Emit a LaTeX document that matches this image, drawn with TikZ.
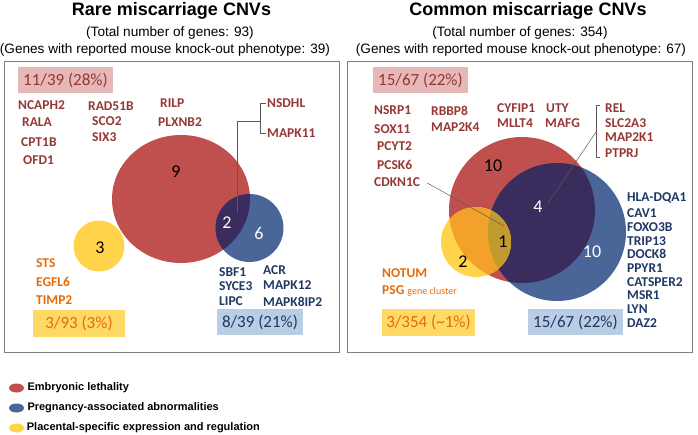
\documentclass[tikz,border=0pt]{standalone}
\usepackage{fontspec}
\usetikzlibrary{calc}
\setmainfont{Liberation Sans}
\newfontfamily\calfont{Carlito}
\definecolor{cred}{HTML}{C0504D}
\definecolor{cblue}{HTML}{4A6698}
\definecolor{cnavy}{HTML}{3A2D5E}
\definecolor{cyellow}{HTML}{FFD44A}
\definecolor{corange}{HTML}{F2A22A}
\definecolor{colive}{HTML}{C29B2E}
\definecolor{tred}{HTML}{953735}
\definecolor{torange}{HTML}{E46C0A}
\definecolor{tblue}{HTML}{1F3864}
\definecolor{fpink}{HTML}{E6B9B8}
\definecolor{fyellow}{HTML}{FFD966}
\definecolor{fblue}{HTML}{B9CDE5}
\definecolor{pgray}{HTML}{808080}
\tikzset{
  gn/.style={font=\calfont\bfseries\fontsize{13.5}{13.5}\selectfont, anchor=west, inner sep=0pt},
  rn/.style={gn, text=tred},
  on/.style={gn, text=torange},
  bn/.style={gn, text=tblue},
  lbl/.style={font=\calfont\fontsize{17}{17}\selectfont, minimum height=26pt, inner sep=0pt},
  num/.style={font=\calfont\fontsize{18}{18}\selectfont, inner sep=0pt},
  panel/.style={draw=pgray, line width=0.8pt},
  conn/.style={draw=black!65, line width=0.5pt},
  leg/.style={font=\bfseries\fontsize{11}{11}\selectfont, anchor=west, inner sep=0pt},
  ttl/.style={font=\bfseries\fontsize{18}{18}\selectfont, anchor=base, inner sep=0pt},
  sub/.style={font=\fontsize{13.6}{13.6}\selectfont, anchor=base, inner sep=0pt},
}
\begin{document}
\begin{tikzpicture}[x=1pt,y=-1pt]
\useasboundingbox (0,0) rectangle (698,435);
% titles
\node[ttl] (t1) at (171.5,16) {Rare miscarriage CNVs};
\node[sub] (s1a) at (170,37) {(Total number of genes: 93)};
\node[sub] (s1b) at (165,54) {(Genes with reported mouse knock-out phenotype: 39)};
\node[ttl] (t2) at (528,16) {Common miscarriage CNVs};
\node[sub] (s2a) at (520,37) {(Total number of genes: 354)};
\node[sub] (s2b) at (521,54) {(Genes with reported mouse knock-out phenotype: 67)};
% panels
\draw[panel] (4,61) rectangle (339,352);
\draw[panel] (347,61) rectangle (692,352);

% ---------- left Venn ----------
\fill[cred] (181,199) ellipse [x radius=69, y radius=64];
\fill[cblue] (249.5,228) circle [radius=34];
\begin{scope}
  \clip (181,199) ellipse [x radius=69, y radius=64];
  \fill[cnavy] (249.5,228) circle [radius=34];
\end{scope}
\fill[cyellow] (99,246) circle [radius=25.5];
\node[num] (n9) at (176,172) {9};
\node[num, text=white] (n2) at (227,223) {2};
\node[num, text=white] (n6) at (259,233) {6};
\node[num] (n3) at (100,248) {3};

% left labels
\node[lbl, fill=fpink, text=tred, minimum width=95pt] (l1) at (65.5,80) {11/39 (28\%)};
\node[lbl, fill=fyellow, text=torange, minimum width=92pt, minimum height=27pt] (l2) at (79,323.5) {3/93 (3\%)};
\node[lbl, fill=fblue, text=tblue, minimum width=86pt] (l3) at (260,322) {8/39 (21\%)};

% left names
\node[rn] (a1) at (18,105) {NCAPH2};
\node[rn] (a2) at (22,122) {RALA};
\node[rn] (a3) at (21,142) {CPT1B};
\node[rn] (a4) at (23,160) {OFD1};
\node[rn] (a5) at (88,106) {RAD51B};
\node[rn] (a6) at (92,121) {SCO2};
\node[rn] (a7) at (92,137) {SIX3};
\node[rn] (a8) at (160,103) {RILP};
\node[rn] (a9) at (158,122) {PLXNB2};
\node[rn] (nsdhl) at (267,103) {NSDHL};
\node[rn] (mapk11) at (267,133) {MAPK11};
\node[on] (b1) at (36,263) {STS};
\node[on] (b2) at (36,282) {EGFL6};
\node[on] (b3) at (36,300) {TIMP2};
\node[bn] (c1) at (219,272) {SBF1};
\node[bn] (c2) at (219,286) {SYCE3};
\node[bn] (c3) at (219,301) {LIPC};
\node[bn] (c4) at (263,270) {ACR};
\node[bn] (c5) at (263,285) {MAPK12};
\node[bn] (c6) at (263,302) {MAPK8IP2};

% left connector
\coordinate (p2) at (237,213);
\coordinate (bj) at (260,121);
\draw[conn] (p2) |- (bj);
\draw[conn] ($(nsdhl.west)+(-1.5,0)$) -- (260,103) -- (260,133) -- ($(mapk11.west)+(-1.5,0)$);

% ---------- right Venn ----------
\fill[cred] (522,210) circle [radius=73];
\fill[cblue] (557,232) circle [radius=69];
\begin{scope}
  \clip (522,210) circle [radius=73];
  \fill[cnavy] (557,232) circle [radius=69];
\end{scope}
\fill[cyellow] (476,242) circle [radius=35];
\begin{scope}
  \clip (476,242) circle [radius=35];
  \fill[corange] (522,210) circle [radius=73];
  \clip (522,210) circle [radius=73];
  \fill[colive] (557,232) circle [radius=69];
\end{scope}
\node[num] (m10a) at (493,166) {10};
\node[num, text=white] (m4) at (538,207) {4};
\node[num, text=white] (m10b) at (592,252) {10};
\node[num] (m1) at (503,242) {1};
\node[num] (m2) at (463,262) {2};

% right labels
\node[lbl, fill=fpink, text=tred, minimum width=95pt] (r1) at (420.5,80) {15/67 (22\%)};
\node[lbl, fill=fyellow, text=torange, minimum width=93pt] (r2) at (428.5,322.5) {3/354 (\textasciitilde1\%)};
\node[lbl, fill=fblue, text=tblue, minimum width=95pt] (r3) at (575.5,322) {15/67 (22\%)};

% right names
\node[rn] (d1) at (374,110) {NSRP1};
\node[rn] (d2) at (374,129) {SOX11};
\node[rn] (d3) at (377,146) {PCYT2};
\node[rn] (d4) at (377,165) {PCSK6};
\node[rn] (cdkn) at (374,182) {CDKN1C};
\node[rn] (d6) at (431,111) {RBBP8};
\node[rn] (d7) at (431,127) {MAP2K4};
\node[rn] (d8) at (497,108) {CYFIP1};
\node[rn] (d9) at (497,123) {MLLT4};
\node[rn] (d10) at (546,108) {UTY};
\node[rn] (d11) at (545,123) {MAFG};
\node[rn] (rel) at (605,108) {REL};
\node[rn] (d13) at (605,123) {SLC2A3};
\node[rn] (d14) at (605,137) {MAP2K1};
\node[rn] (ptprj) at (605,153) {PTPRJ};
\node[on] (e1) at (382,273) {NOTUM};
\node[on] (e2) at (382,291) {PSG {\mdseries\fontsize{10}{10}\selectfont gene cluster}};
\node[bn] (f1) at (627,198) {HLA-DQA1};
\node[bn] (f2) at (627,213) {CAV1};
\node[bn] (f3) at (627,227) {FOXO3B};
\node[bn] (f4) at (627,241) {TRIP13};
\node[bn] (f5) at (627,254) {DOCK8};
\node[bn] (f6) at (627,268) {PPYR1};
\node[bn] (f7) at (627,282) {CATSPER2};
\node[bn] (f8) at (627,295) {MSR1};
\node[bn] (f9) at (627,309) {LYN};
\node[bn] (f10) at (627,323) {DAZ2};

% right connectors
\coordinate (q4) at (548,203);
\coordinate (q1) at (504,226);
\coordinate (rb) at (596,132);
\draw[conn] ($(rel.west)+(-5,-3)$) -- (596,105) -- (596,157) -- ($(ptprj.west)+(-5,4)$);
\draw[conn] (rb) -- (q4);
\draw[conn] ($(cdkn.east)+(7,1)$) -- (q1);

% legend
\fill[cred] (16.5,388) ellipse [x radius=7.5, y radius=4.5];
\fill[cblue] (16.5,408) ellipse [x radius=7.5, y radius=4.5];
\fill[cyellow] (16.5,428) ellipse [x radius=7.5, y radius=4.5];
\node[leg] (g1) at (27.3,388) {Embryonic lethality};
\node[leg] (g2) at (27.3,408) {Pregnancy-associated abnormalities};
\node[leg] (g3) at (26.7,428) {Placental-specific expression and regulation};
\end{tikzpicture}
\end{document}
